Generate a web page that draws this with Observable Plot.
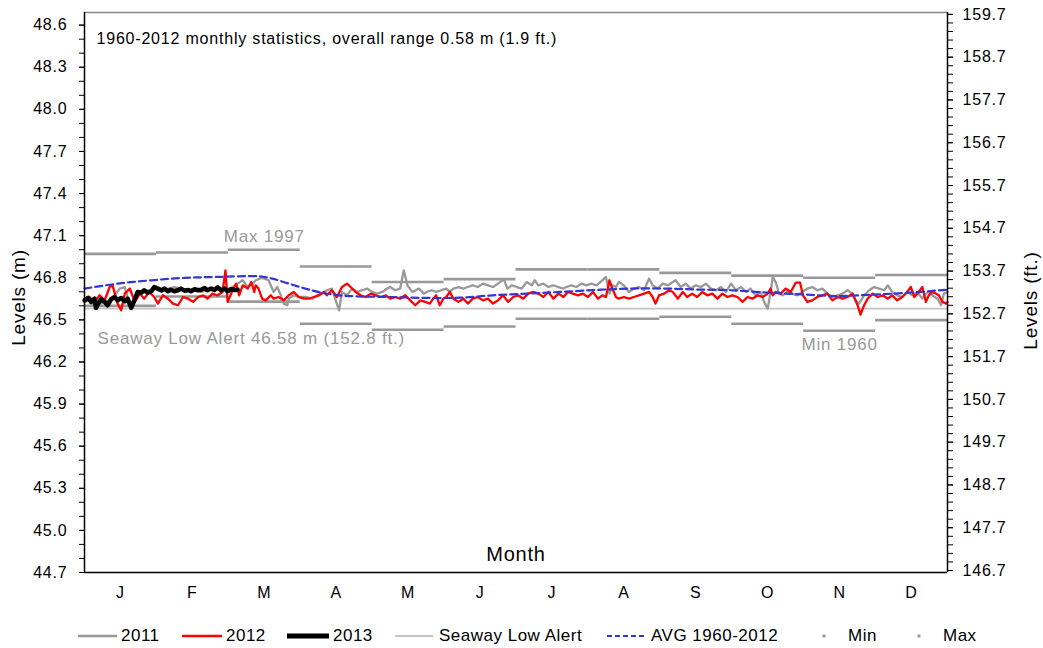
<!DOCTYPE html>
<html><head><meta charset="utf-8">
<script src="https://cdn.jsdelivr.net/npm/d3@7"></script>
<script src="https://cdn.jsdelivr.net/npm/@observablehq/plot@0.6"></script>
<style>
body{margin:0;background:#fff;font-family:"Liberation Sans",Arial,sans-serif;}
#wrap{position:relative;width:1043px;height:648px;overflow:hidden;}
#chart svg{display:block;}
#chart svg text{letter-spacing:0.8px;}
#legend{position:absolute;left:0;top:624px;width:1043px;height:24px;font-size:17px;letter-spacing:0.5px;color:#000;}
.li{position:absolute;top:0;height:24px;line-height:24px;white-space:nowrap;}
.sw{position:absolute;top:7px;}
</style></head><body>
<div id="wrap"><div id="chart"></div><div id="legend"></div></div>
<script>
// ---------- data ----------
const monthLabels = ["J","F","M","A","M","J","J","A","S","O","N","D"];
const monthMax = [46.97,46.98,47.00,46.88,46.77,46.79,46.86,46.86,46.835,46.815,46.80,46.82];
const monthMin = [46.60,46.667,46.63,46.472,46.43,46.453,46.508,46.508,46.522,46.472,46.422,46.498];
const lowAlert = 46.58;
const mTicks = [44.7,45.0,45.3,45.6,45.9,46.2,46.5,46.8,47.1,47.4,47.7,48.0,48.3,48.6];
const ftTicks = [146.7,147.7,148.7,149.7,150.7,151.7,152.7,153.7,154.7,155.7,156.7,157.7,158.7,159.7];
const FT_PER_M = 3.28084;

// [month position (0-12), level m]
const s2011 = [[0.00,46.628],[0.07,46.639],[0.14,46.592],[0.21,46.604],[0.28,46.639],[0.35,46.628],[0.42,46.675],[0.49,46.723],[0.56,46.734],[0.63,46.604],[0.70,46.651],[0.77,46.687],[0.83,46.699],[0.90,46.711],[0.97,46.723],[1.07,46.699],[1.16,46.723],[1.25,46.734],[1.34,46.723],[1.44,46.711],[1.53,46.723],[1.62,46.699],[1.71,46.711],[1.81,46.723],[1.90,46.711],[1.99,46.723],[2.06,46.734],[2.13,46.758],[2.20,46.782],[2.27,46.734],[2.34,46.758],
[2.38,46.782],[2.47,46.799],[2.56,46.782],[2.63,46.699],[2.68,46.734],[2.73,46.675],[2.77,46.616],[2.82,46.604],[2.84,46.651],[2.91,46.675],[2.98,46.663],[3.07,46.663],[3.17,46.651],[3.24,46.675],[3.30,46.687],[3.37,46.711],[3.44,46.723],[3.50,46.628],[3.54,46.568],[3.58,46.699],[3.65,46.675],[3.72,46.723],[3.79,46.699],[3.86,46.711],[3.93,46.723],[4.00,46.699],[4.07,46.687],[4.14,46.699],[4.21,46.723],[4.25,46.734],[4.32,46.711],[4.39,46.723],[4.44,46.853],[4.49,46.746],[4.56,46.699],[4.65,46.723],[4.72,46.687],
[4.76,46.699],[4.83,46.711],[4.89,46.699],[4.96,46.711],[5.03,46.723],[5.08,46.699],[5.13,46.723],[5.20,46.734],[5.27,46.723],[5.33,46.734],[5.40,46.746],[5.47,46.734],[5.54,46.758],[5.61,46.746],[5.68,46.734],[5.75,46.758],[5.83,46.789],[5.88,46.723],[5.94,46.746],[6.01,46.734],[6.08,46.723],[6.15,46.770],[6.22,46.746],[6.26,46.782],[6.31,46.746],[6.38,46.758],[6.45,46.734],[6.52,46.746],[6.59,46.734],[6.66,46.723],[6.70,46.734],[6.77,46.746],[6.84,46.734],[6.91,46.758],[6.98,46.746],[7.05,46.758],[7.12,46.746],
[7.20,46.782],[7.25,46.806],[7.30,46.687],[7.34,46.746],[7.39,46.734],[7.43,46.770],[7.50,46.746],[7.57,46.699],[7.64,46.723],[7.71,46.734],[7.78,46.711],[7.85,46.794],[7.90,46.746],[7.97,46.723],[8.04,46.758],[8.11,46.746],[8.18,46.770],[8.22,46.782],[8.29,46.734],[8.36,46.758],[8.43,46.723],[8.50,46.746],[8.57,46.734],[8.64,46.758],[8.71,46.723],[8.78,46.711],[8.85,46.734],[8.92,46.699],[8.99,46.758],[9.06,46.711],[9.13,46.734],[9.20,46.699],[9.26,46.723],[9.33,46.675],[9.40,46.699],[9.45,46.628],[9.50,46.580],[9.54,46.699],
[9.57,46.806],[9.61,46.770],[9.66,46.687],[9.71,46.675],[9.77,46.699],[9.84,46.687],[9.91,46.675],[9.98,46.699],[10.05,46.723],[10.12,46.734],[10.19,46.711],[10.26,46.723],[10.33,46.687],[10.40,46.663],[10.47,46.675],[10.54,46.687],[10.61,46.711],[10.68,46.687],[10.72,46.639],[10.77,46.616],[10.84,46.675],[10.91,46.711],[10.98,46.734],[11.05,46.723],[11.12,46.711],[11.17,46.746],[11.23,46.699],[11.30,46.675],[11.37,46.663],[11.44,46.699],[11.51,46.675],[11.58,46.699],[11.65,46.651],[11.70,46.687],[11.74,46.699],[11.79,46.675],[11.86,46.651],[11.91,46.604],[11.95,46.687],[12.00,46.699]];

const s2012 = [[0.00,46.651],[0.07,46.663],[0.14,46.628],[0.21,46.675],[0.28,46.639],[0.35,46.734],[0.39,46.746],[0.46,46.616],[0.51,46.568],[0.56,46.687],[0.63,46.723],[0.70,46.628],[0.77,46.687],[0.83,46.651],[0.90,46.699],[0.97,46.663],[1.02,46.616],[1.09,46.675],[1.16,46.651],[1.23,46.616],[1.30,46.604],[1.37,46.663],[1.44,46.651],[1.51,46.628],[1.58,46.663],[1.65,46.675],[1.71,46.651],[1.78,46.687],[1.85,46.675],[1.92,46.699],[1.96,46.853],[1.99,46.628],[2.06,46.711],[2.11,46.758],[2.15,46.675],[2.20,46.746],[2.27,46.723],[2.32,46.770],[2.36,46.699],
[2.38,46.746],[2.42,46.723],[2.47,46.651],[2.52,46.639],[2.59,46.675],[2.63,46.651],[2.70,46.663],[2.77,46.639],[2.84,46.675],[2.91,46.699],[2.98,46.663],[3.05,46.651],[3.12,46.651],[3.19,46.663],[3.26,46.675],[3.33,46.699],[3.37,46.675],[3.44,46.711],[3.51,46.663],[3.58,46.734],[3.65,46.758],[3.70,46.734],[3.77,46.699],[3.84,46.675],[3.91,46.663],[3.98,46.687],[4.05,46.675],[4.12,46.663],[4.19,46.675],[4.25,46.651],[4.32,46.663],[4.39,46.651],[4.46,46.675],[4.53,46.639],[4.60,46.604],[4.67,46.639],[4.74,46.628],
[4.80,46.616],[4.85,46.651],[4.89,46.675],[4.94,46.604],[4.99,46.651],[5.03,46.663],[5.08,46.699],[5.13,46.651],[5.20,46.628],[5.27,46.651],[5.33,46.616],[5.40,46.651],[5.47,46.663],[5.54,46.639],[5.61,46.651],[5.68,46.616],[5.75,46.639],[5.82,46.675],[5.89,46.628],[5.96,46.663],[6.03,46.675],[6.10,46.651],[6.17,46.687],[6.24,46.699],[6.31,46.687],[6.38,46.663],[6.45,46.699],[6.52,46.651],[6.59,46.687],[6.66,46.663],[6.72,46.699],[6.79,46.687],[6.86,46.675],[6.93,46.687],[7.00,46.663],[7.07,46.699],[7.14,46.651],
[7.20,46.675],[7.25,46.663],[7.30,46.782],[7.34,46.723],[7.39,46.663],[7.43,46.651],[7.50,46.663],[7.57,46.651],[7.64,46.663],[7.71,46.675],[7.78,46.687],[7.85,46.699],[7.90,46.663],[7.94,46.616],[7.99,46.675],[8.06,46.687],[8.13,46.711],[8.18,46.699],[8.25,46.651],[8.32,46.699],[8.38,46.663],[8.45,46.687],[8.52,46.663],[8.59,46.699],[8.66,46.675],[8.73,46.687],[8.80,46.651],[8.87,46.687],[8.94,46.663],[9.01,46.675],[9.08,46.663],[9.15,46.628],[9.22,46.663],[9.29,46.651],[9.36,46.675],[9.43,46.663],[9.50,46.687],[9.54,46.723],
[9.57,46.675],[9.61,46.699],[9.68,46.687],[9.75,46.723],[9.82,46.699],[9.89,46.765],[9.95,46.765],[9.99,46.675],[10.05,46.628],[10.12,46.639],[10.19,46.663],[10.26,46.675],[10.33,46.687],[10.40,46.639],[10.47,46.663],[10.54,46.651],[10.61,46.663],[10.68,46.687],[10.75,46.604],[10.79,46.537],[10.84,46.604],[10.89,46.651],[10.96,46.687],[11.03,46.663],[11.10,46.675],[11.17,46.651],[11.23,46.675],[11.30,46.639],[11.37,46.663],[11.44,46.699],[11.49,46.734],[11.54,46.663],[11.60,46.699],[11.65,46.734],[11.70,46.628],[11.74,46.675],[11.79,46.699],[11.84,46.687],[11.88,46.675],[11.93,46.628],[11.98,46.616],[12.00,46.628]];

const s2013 = [[0.00,46.639],[0.05,46.656],[0.09,46.628],[0.14,46.651],[0.16,46.585],[0.19,46.616],[0.23,46.647],[0.28,46.628],[0.32,46.604],[0.37,46.647],[0.42,46.663],[0.46,46.639],[0.51,46.656],[0.56,46.633],[0.60,46.651],[0.65,46.585],[0.70,46.647],[0.74,46.699],[0.79,46.694],[0.83,46.711],[0.88,46.694],[0.93,46.704],[0.97,46.734],[1.02,46.723],[1.07,46.711],[1.11,46.723],[1.16,46.704],[1.20,46.715],[1.25,46.704],[1.30,46.711],[1.34,46.723],[1.39,46.708],[1.44,46.713],[1.48,46.704],[1.53,46.718],[1.58,46.711],[1.62,46.715],[1.67,46.727],[1.71,46.711],[1.76,46.723],[1.81,46.713],[1.85,46.732],[1.90,46.711],[1.95,46.723],[1.99,46.704],[2.04,46.718],[2.09,46.713],[2.13,46.715]];

const avg19602012 = [[0.00,46.723],[0.46,46.758],[0.93,46.782],[1.39,46.799],[1.85,46.806],[2.43,46.810],[2.61,46.794],[2.84,46.758],[3.07,46.723],[3.30,46.694],[3.54,46.675],[3.77,46.668],[4.23,46.663],[4.81,46.656],[5.22,46.658],[5.68,46.675],[6.15,46.687],[6.61,46.699],[7.19,46.715],[7.60,46.723],[8.06,46.723],[8.52,46.716],[8.99,46.711],[9.57,46.692],[10.03,46.680],[10.49,46.670],[10.96,46.680],[11.42,46.692],[12.00,46.715]];

const titleText = "1960-2012 monthly statistics, overall range 0.58 m (1.9 ft.)";
const maxNote = [{month: 2, label: "Max 1997"}];
const minNote = [{month: 10, label: "Min 1960"}];
const lowAlertLabel = "Seaway Low Alert 46.58 m (152.8 ft.)";

// ---------- chart ----------
const GRAY = "#999999";
const BLUE = "#3535d6";
const minorM = d3.range(0, 40).map(i => 44.7 + i * 0.1);
const minorFt = d3.range(0, 66).map(i => 146.7 + i * 0.2);
const monthCenters = monthLabels.map((d, i) => i + 0.5);
const X = d => d[0], Y = d => d[1];

const chart = Plot.plot({
  width: 1043, height: 612,
  marginLeft: 84, marginRight: 96, marginTop: 12, marginBottom: 40,
  style: {fontFamily: '"Liberation Sans", Arial, sans-serif', fontSize: "16px", color: "#000", background: "#fff", overflow: "visible"},
  x: {domain: [0, 12], axis: null},
  y: {domain: [44.7, 48.69], axis: null},
  marks: [
    Plot.ruleY([lowAlert], {stroke: "#c4c4c4", strokeWidth: 1.6}),
    Plot.ruleY(monthMax, {y: d => d, x1: (d, i) => i, x2: (d, i) => i + 1, stroke: GRAY, strokeWidth: 2.6}),
    Plot.ruleY(monthMin, {y: d => d, x1: (d, i) => i, x2: (d, i) => i + 1, stroke: GRAY, strokeWidth: 2.6}),
    Plot.line(s2011, {x: X, y: Y, stroke: GRAY, strokeWidth: 2.3}),
    Plot.line(s2012, {x: X, y: Y, stroke: "#ff0000", strokeWidth: 2.3}),
    Plot.line(avg19602012, {x: X, y: Y, stroke: BLUE, strokeWidth: 2.2, strokeDasharray: "7,4", curve: "catmull-rom"}),
    Plot.line(s2013, {x: X, y: Y, stroke: "#000", strokeWidth: 4.5, strokeLinejoin: "round"}),
    Plot.text(maxNote, {x: d => d.month + 0.5, y: d => monthMax[d.month], dy: -13, text: "label", fill: GRAY, fontSize: 17}),
    Plot.text(minNote, {x: d => d.month + 0.5, y: d => monthMin[d.month], dy: 14, text: "label", fill: GRAY, fontSize: 17}),
    Plot.text([lowAlertLabel], {x: 0, y: lowAlert, dx: 13, dy: 30, textAnchor: "start", fill: GRAY, fontSize: 17, text: d => d}),
    Plot.text([titleText], {frameAnchor: "top-left", dx: 12, dy: 20, textAnchor: "start", fill: "#000", fontSize: 16, text: d => d}),
    Plot.text(["Month"], {frameAnchor: "bottom", dy: -12, fill: "#000", fontSize: 20, text: d => d}),
    Plot.text(["Levels (m)"], {frameAnchor: "left", dx: -66, dy: 5, rotate: -90, textAnchor: "middle", fill: "#000", fontSize: 19, text: d => d}),
    Plot.text(["Levels (ft.)"], {frameAnchor: "right", dx: 83, dy: 8, rotate: -90, textAnchor: "middle", fill: "#000", fontSize: 19, text: d => d}),
    // frame
    Plot.ruleY([48.69], {stroke: "#888", strokeWidth: 1.5}),
    Plot.ruleY([44.7], {stroke: "#000", strokeWidth: 1.5}),
    Plot.ruleX([0, 12], {stroke: "#000", strokeWidth: 1.5}),
    // axes
    Plot.axisY({anchor: "left", ticks: minorM, tickSize: 5, tickFormat: () => ""}),
    Plot.axisY({anchor: "left", ticks: mTicks, tickSize: 5, tickPadding: 12, tickFormat: d => d.toFixed(1), fontSize: 16}),
    Plot.axisY({anchor: "right", ticks: minorFt.map(f => f / FT_PER_M), tickSize: 5, tickFormat: () => ""}),
    Plot.axisY({anchor: "right", ticks: ftTicks.map(f => f / FT_PER_M), tickSize: 5, tickPadding: 10, tickFormat: d => (d * FT_PER_M).toFixed(1), fontSize: 16}),
    Plot.axisX({anchor: "bottom", ticks: monthCenters, tickSize: 0, tickPadding: 14, tickFormat: d => monthLabels[Math.round(d - 0.5)], fontSize: 16})
  ]
});
document.getElementById("chart").appendChild(chart);

// ---------- legend ----------
const legendItems = [
  {label: "2011", type: "line", color: GRAY, width: 2.5, sw: 78, sww: 39, tx: 121},
  {label: "2012", type: "line", color: "#ff0000", width: 2.5, sw: 182, sww: 40, tx: 226},
  {label: "2013", type: "line", color: "#000", width: 5, sw: 287, sww: 42, tx: 333},
  {label: "Seaway Low Alert", type: "line", color: "#c4c4c4", width: 2, sw: 395, sww: 38, tx: 439},
  {label: "AVG 1960-2012", type: "dash", color: BLUE, width: 2, sw: 607, sww: 40, tx: 651},
  {label: "Min", type: "dot", color: GRAY, width: 3, sw: 822, sww: 4, tx: 848},
  {label: "Max", type: "dot", color: GRAY, width: 3, sw: 917, sww: 4, tx: 943}
];
const leg = document.getElementById("legend");
for (const it of legendItems) {
  const s = document.createElementNS("http://www.w3.org/2000/svg", "svg");
  s.setAttribute("class", "sw");
  s.setAttribute("width", it.sww);
  s.setAttribute("height", 10);
  s.style.left = it.sw + "px";
  if (it.type === "dot") {
    s.innerHTML = `<rect x="0.5" y="3.5" width="3" height="3" fill="${it.color}"/>`;
  } else {
    s.innerHTML = `<line x1="0" x2="${it.sww}" y1="5" y2="5" stroke="${it.color}" stroke-width="${it.width}" ${it.type === "dash" ? 'stroke-dasharray="5,3"' : ''} stroke-linecap="${it.type === 'line' && it.width > 3 ? 'round' : 'butt'}"/>`;
  }
  leg.appendChild(s);
  const t = document.createElement("div");
  t.className = "li";
  t.style.left = it.tx + "px";
  t.textContent = it.label;
  leg.appendChild(t);
}
</script>
</body></html>
